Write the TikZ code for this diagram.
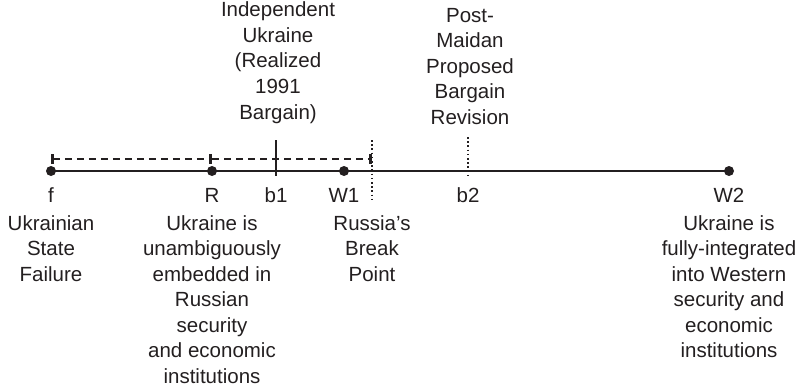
\documentclass[tikz,border=0pt]{standalone}
\usepackage{fontspec}
\setmainfont{Liberation Sans}
\usepackage{tikz}
\usetikzlibrary{arrows.meta, positioning}
\definecolor{mydark}{RGB}{35,31,32}
\tikzset{
  brk/.tip={Bar[width=10pt]},
  axisline/.style={line width=2.2pt, color=mydark},
  pt/.style={circle, fill=mydark, inner sep=0pt, minimum size=10pt},
  tick/.style={line width=2.2pt, color=mydark},
  dotline/.style={line width=2.2pt, color=mydark, dash pattern=on 1.6pt off 2.6pt},
  bracket/.style={line width=2.6pt, color=mydark, dash pattern=on 7pt off 5pt},
  lbl/.style={font=\fontsize{20.5}{25.5}\selectfont, text=mydark, inner sep=0pt, anchor=base},
  desc/.style={lbl, align=center}
}

\begin{document}
\begin{tikzpicture}[x=1pt, y=1pt]
  \useasboundingbox (0,0) rectangle (802,389);

  % Bargain space
  \node[pt] (f) at (51,218) {};
  \node[pt] (R) at (212,218) {};
  \node[pt] (W1) at (344,218) {};
  \node[pt] (W2) at (729,218) {};
  \coordinate (b1) at (276,218);
  \coordinate (brkpt) at (372,218);
  \coordinate (b2) at (468,218);
  \draw[axisline] (f.center) -- (W2.center);

  % Dashed range and markers
  \draw[bracket, brk-brk] ([yshift=12pt]f.center) -- ([yshift=12pt]R.center);
  \draw[bracket, -brk] ([yshift=12pt]R.center) -- ([yshift=12pt]brkpt);
  \draw[tick] ([yshift=31pt]b1) -- ([yshift=-5pt]b1);
  \draw[dotline] ([yshift=31pt]brkpt) -- ([yshift=-31pt]brkpt);
  \draw[dotline] ([yshift=34pt]b2) -- ([yshift=-5pt]b2);

  % Point labels
  \node[lbl] (flab) at ([yshift=-31pt]f.center) {f};
  \node[lbl] (Rlab) at ([yshift=-31pt]R.center) {R};
  \node[lbl] (b1lab) at ([yshift=-31pt]b1) {b1};
  \node[lbl] (W1lab) at ([yshift=-31pt]W1.center) {W1};
  \node[lbl] (b2lab) at ([yshift=-31pt]b2) {b2};
  \node[lbl] (W2lab) at ([yshift=-31pt]W2.center) {W2};

  % Descriptions (base = last line)
  \node[desc] (fdesc) at ([yshift=-110pt]f.center) {Ukrainian\\State\\Failure};
  \node[desc] (Rdesc) at ([yshift=-212pt]R.center) {Ukraine is\\unambiguously\\embedded in\\Russian\\security\\and economic\\institutions};
  \node[desc] (brkdesc) at ([yshift=-110pt]brkpt) {Russia’s\\Break\\Point};
  \node[desc] (W2desc) at ([yshift=-186.5pt]W2.center) {Ukraine is\\fully-integrated\\into Western\\security and\\economic\\institutions};
  \node[desc] (b1desc) at ([xshift=2pt,yshift=52pt]b1) {Independent\\Ukraine\\(Realized\\1991\\Bargain)};
  \node[desc] (b2desc) at ([xshift=2pt,yshift=47pt]b2) {Post-\\Maidan\\Proposed\\Bargain\\Revision};
\end{tikzpicture}
\end{document}
